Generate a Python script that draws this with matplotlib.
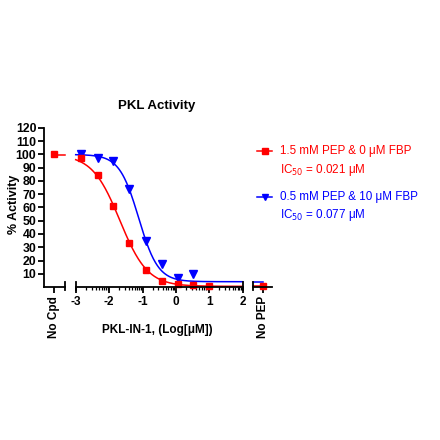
import numpy as np
import matplotlib
matplotlib.use("Agg")
import matplotlib.pyplot as plt

plt.rcParams['font.family'] = ['Liberation Sans', 'DejaVu Sans']

# measured points, x in log10(uM)
log_conc = [-2.84, -2.34, -1.87, -1.39, -0.90, -0.43, 0.05, 0.52, 1.0]
red_act = [97, 84.2, 61.2, 33.2, 12.5, 4.3, 2.5, 1.2, 0.8]
blue_log_conc = [-2.84, -2.34, -1.87, -1.39, -0.90, -0.43, 0.05, 0.52]
blue_act = [100.3, 97, 95, 73.7, 35, 17, 7, 9.5]
red_nocpd = 100
red_nopep = 0.5

# fitted 4PL parameters (top, bottom, logIC50, hill)
red_fit = (100, 0.5, np.log10(0.021), 1.05)
blue_fit = (100, 4.0, np.log10(0.077), 1.5)

red = '#FF0000'
blue = '#0000FF'


def logistic(x, p):
    top, bottom, c, h = p
    return bottom + (top - bottom) / (1 + 10 ** ((x - c) * h))


fig = plt.figure(figsize=(4.4, 4.4), dpi=100)
bot = 1 - 287 / 440
hgt = (287 - 128) / 440
ax1 = fig.add_axes([44 / 440, bot, 21 / 440, hgt])
ax2 = fig.add_axes([75.7 / 440, bot, 167 / 440, hgt])
ax3 = fig.add_axes([253 / 440, bot, 19 / 440, hgt])

for ax in (ax1, ax2, ax3):
    ax.set_ylim(0, 120)
    for s in ('top', 'right'):
        ax.spines[s].set_visible(False)
    ax.spines['bottom'].set_linewidth(1.3)
    ax.spines['left'].set_linewidth(1.3)
    ax.tick_params(direction='out', width=1.3, length=4, labelsize=8, pad=2.5)
    ax.patch.set_alpha(0)
for ax in (ax2, ax3):
    ax.spines['left'].set_visible(False)
    ax.set_yticks([])

ax1.set_yticks(range(10, 130, 10))
ax1.tick_params(axis='y', labelsize=8.8, pad=1.5)
for t in ax1.get_yticklabels():
    t.set_fontweight('bold')

# No Cpd segment
ax1.set_xlim(0, 1)
ax1.set_xticks([0.49])
ax1.set_xticklabels(['No Cpd'], rotation=90, fontweight='bold', fontsize=8.5)
ax1.plot([0.49, 1], [logistic(-10, red_fit)] * 2, color=red, lw=1.1, clip_on=False)
ax1.plot([0.49], [red_nocpd], 's', color=red, ms=5, clip_on=False)

# main segment
xs = np.linspace(-3, 2, 300)
ax2.set_xlim(-3, 2)
ax2.set_xticks(range(-3, 3))
ax2.set_xticklabels([str(v) for v in range(-3, 3)], fontweight='bold', fontsize=8.5)
minor = [d + np.log10(k) for d in range(-3, 2) for k in range(2, 10)]
ax2.set_xticks(minor, minor=True)
ax2.tick_params(which='minor', length=2, width=0.9)
ax2.plot(xs, logistic(xs, blue_fit), color=blue, lw=1.1, clip_on=False)
ax2.plot(xs, logistic(xs, red_fit), color=red, lw=1.1, clip_on=False)
ax2.plot(blue_log_conc, blue_act, 'v', color=blue, ms=5.5, clip_on=False)
ax2.plot(log_conc, red_act, 's', color=red, ms=5, clip_on=False)

# No PEP segment
ax3.set_xlim(0, 1)
ax3.set_xticks([0.54])
ax3.set_xticklabels(['No PEP'], rotation=90, fontweight='bold', fontsize=8.5)
ax3.plot([0, 0.54], [logistic(10, blue_fit)] * 2, color=blue, lw=1.1, clip_on=False)
ax3.plot([0, 0.54], [logistic(10, red_fit)] * 2, color=red, lw=1.1, clip_on=False)
ax3.plot([0.54], [red_nopep], 's', color=red, ms=5, clip_on=False)

# break caps
for ax, xc in ((ax1, 1), (ax2, -3), (ax2, 2), (ax3, 0)):
    ax.plot([xc, xc], [-0.02, 0.03], color='black', lw=1.3,
            transform=ax.get_xaxis_transform(), clip_on=False)

fig.text(14.5 / 440, 1 - 204 / 440, '% Activity', rotation=90, ha='center', va='center',
         fontweight='bold', fontsize=9)
fig.text(157 / 440, 1 - 106 / 440, 'PKL Activity', ha='center', va='center',
         fontweight='bold', fontsize=9.5)
fig.text(157 / 440, 1 - 330 / 440, 'PKL-IN-1, (Log[\u03bcM])', ha='center', va='center',
         fontweight='bold', fontsize=8.5)

# legend
leg = fig.add_axes([0, 0, 1, 1])
leg.set_xlim(0, 440)
leg.set_ylim(440, 0)
leg.axis('off')
leg.plot([257, 272], [151, 151], color=red, lw=1.1)
leg.plot([264.5], [151], 's', color=red, ms=4)
leg.plot([257, 272], [196.7, 196.7], color=blue, lw=1.1)
leg.plot([264.5], [196.7], 'v', color=blue, ms=4.5)
leg.text(280, 151, '1.5 mM PEP & 0 \u03bcM FBP', color=red, fontsize=8.4, va='center')
leg.text(280, 169.5, 'IC$_{50}$ = 0.021 \u03bcM', color=red, fontsize=8.4, va='center')
leg.text(280, 196.7, '0.5 mM PEP & 10 \u03bcM FBP', color=blue, fontsize=8.4, va='center')
leg.text(280, 215, 'IC$_{50}$ = 0.077 \u03bcM', color=blue, fontsize=8.4, va='center')

fig.savefig('out.png', dpi=100)
